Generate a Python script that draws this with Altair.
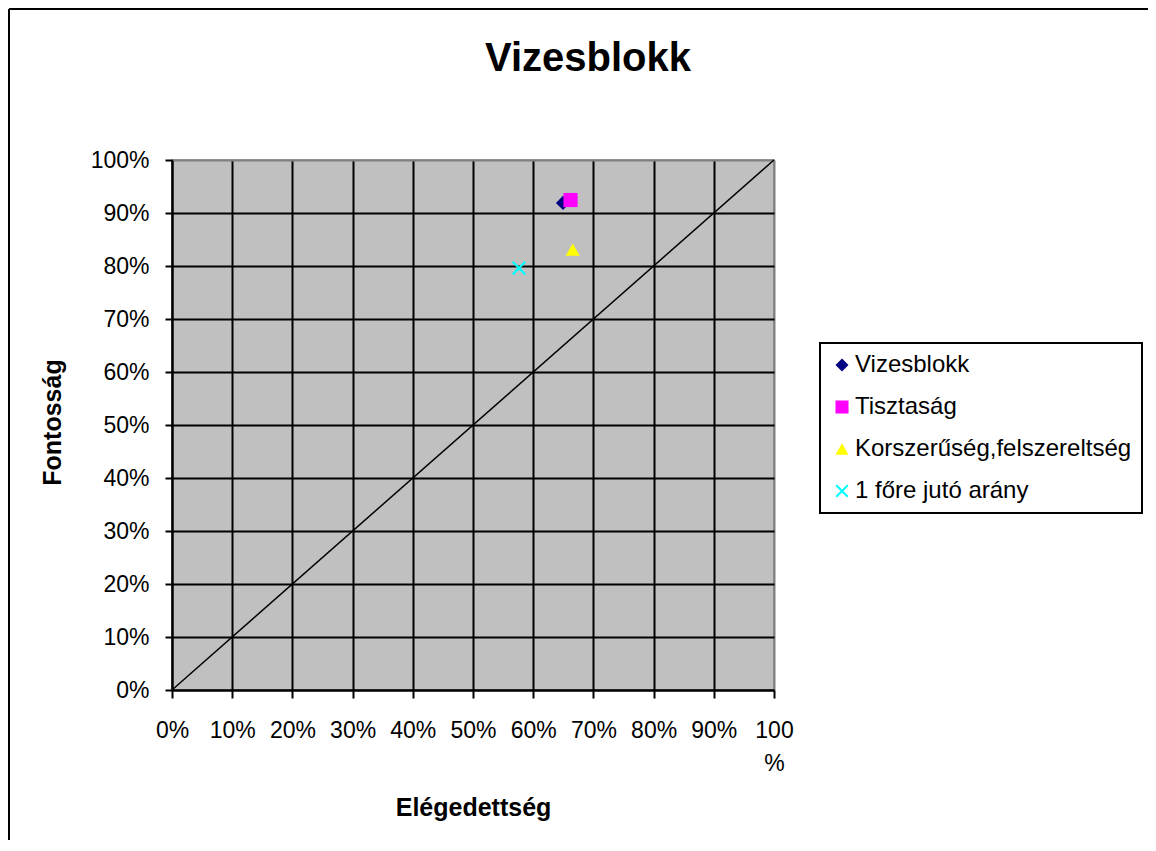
import altair as alt
import pandas as pd

# Data
series = ["Vizesblokk", "Tisztaság", "Korszerűség,felszereltség", "1 főre jutó arány"]
elegedettseg = [0.6495, 0.662, 0.6656, 0.5764]
fontossag = [0.919, 0.9245, 0.831, 0.796]
colors = ["#000080", "#FF00FF", "#FFFF00", "#00FFFF"]
x_path = "M-1,-0.78L-0.78,-1L0,-0.22L0.78,-1L1,-0.78L0.22,0L1,0.78L0.78,1L0,0.22L-0.78,1L-1,0.78L-0.22,0Z"
shapes = ["diamond", "square", "triangle-up", x_path]
diag_x = [0, 1]
diag_y = [0, 1]
ticks = [0, 0.1, 0.2, 0.3, 0.4, 0.5, 0.6, 0.7, 0.8, 0.9, 1.0]

FONT = "Liberation Sans"

df = pd.DataFrame({"series": series, "x": elegedettseg, "y": fontossag})
diag = pd.DataFrame({"x": diag_x, "y": diag_y})

xscale = alt.Scale(domain=[0, 1], nice=False, zero=False)
yscale = alt.Scale(domain=[0, 1], nice=False, zero=False)

grid_color = {"condition": {"test": "datum.value === 1", "value": "#808080"}, "value": "black"}

x_axis = alt.Axis(
    values=ticks, format=".0%", grid=True, gridColor=grid_color, gridWidth=2,
    domainColor="black", domainWidth=2, tickColor="black", tickSize=8, tickWidth=2,
    labelFont=FONT, labelFontSize=23, labelColor="black",
    labelBaseline="alphabetic", labelPadding=39, labelLineHeight=33,
    labelExpr="datum.value == 1 ? ['100', '%'] : datum.label",
    labelFlush=False, labelOverlap=False,
    title="Elégedettség", titleFont=FONT, titleFontSize=25, titleFontWeight="bold",
    titleColor="black", titleBaseline="alphabetic", titleX=301, titleY=125, titleAlign="center",
)
y_axis = alt.Axis(
    values=ticks, format=".0%", grid=True, gridColor=grid_color, gridWidth=2,
    domainColor="black", domainWidth=2, tickColor="black", tickSize=7, tickWidth=2,
    labelFont=FONT, labelFontSize=23, labelColor="black", labelPadding=16,
    labelFlush=False, labelOverlap=False,
    title="Fontosság", titleFont=FONT, titleFontSize=25, titleFontWeight="bold",
    titleColor="black", titleBaseline="alphabetic", titleX=-112, titleY=262,
    titleAngle=270, titleAlign="center",
)

line = alt.Chart(diag).mark_line(color="black", strokeWidth=1.5).encode(
    x=alt.X("x:Q", scale=xscale, axis=x_axis),
    y=alt.Y("y:Q", scale=yscale, axis=y_axis),
)

points = alt.Chart(df).mark_point(filled=True, opacity=1, size=200).encode(
    x=alt.X("x:Q", scale=xscale),
    y=alt.Y("y:Q", scale=yscale),
    color=alt.Color("series:N", scale=alt.Scale(domain=series, range=colors),
                    sort=series, legend=alt.Legend(title=None)),
    shape=alt.Shape("series:N", scale=alt.Scale(domain=series, range=shapes),
                    sort=series, legend=alt.Legend(title=None)),
)

border_data = alt.Data(values=[{"b": 0}])
left_border = alt.Chart(border_data).mark_rule(color="black", strokeWidth=2).encode(
    x=alt.value(-163), y=alt.value(-151), y2=alt.value(680)
)
top_border = alt.Chart(border_data).mark_rule(color="black", strokeWidth=2).encode(
    y=alt.value(-151), x=alt.value(-163), x2=alt.value(976)
)

chart = alt.layer(line, points, left_border, top_border).properties(
    width=602,
    height=530,
    background="white",
    autosize=alt.AutoSizeParams(type="none"),
    padding={"left": 164, "top": 152, "right": 374, "bottom": 150},
    title=alt.TitleParams(
        "Vizesblokk", font=FONT, fontSize=40, fontWeight="bold", color="black",
        anchor="middle", frame="group", offset=0, dx=115, dy=103, baseline="alphabetic",
    ),
).configure_view(
    fill="#C0C0C0", stroke="#808080", strokeWidth=1.5
).configure_legend(
    orient="none", legendX=648, legendY=183,
    strokeColor="black", strokeWidth=2, fillColor="white",
    padding=10, rowPadding=18, labelOffset=1,
    labelFont=FONT, labelFontSize=24, labelColor="black",
    symbolSize=170, symbolStrokeWidth=0, symbolOpacity=1, labelLimit=400,
)

chart.save("out.html", embed_options={"renderer": "svg", "actions": False})
